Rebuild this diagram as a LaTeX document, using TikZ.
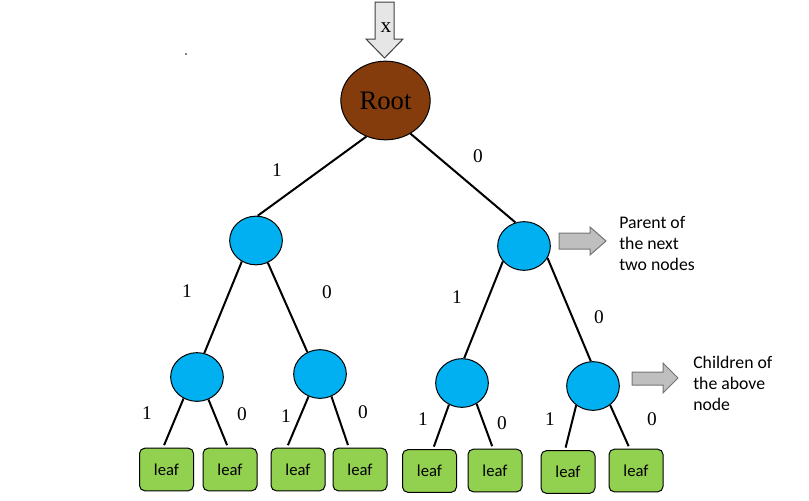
\documentclass[tikz,border=0pt]{standalone}
\usepackage{fontspec}
\setmainfont{Liberation Serif}
\newfontfamily\calibri{Carlito}
\usepackage{tikz}
\usetikzlibrary{shapes.geometric}

\definecolor{rootbrown}{HTML}{843C0C}
\definecolor{bitblue}{HTML}{00B0F0}
\definecolor{leafgreen}{HTML}{92D050}
\definecolor{arrowgray}{HTML}{BFBFBF}
\definecolor{inputgray}{HTML}{E7E6E6}

\begin{document}
\begin{tikzpicture}[x=0.75pt, y=-0.75pt,
        bit/.style={draw, ellipse, fill=bitblue, line width=0.75pt, minimum width=39.5pt, minimum height=36.5pt, inner sep=0pt},
        leafbox/.style={draw, rectangle, rounded corners=4pt, fill=leafgreen, line width=0.75pt, minimum width=40.5pt, minimum height=32pt, inner sep=0pt, font=\calibri\fontsize{12.5}{15}\selectfont},
        edge/.style={line width=1.5pt},
        lbl/.style={inner sep=0pt, font=\fontsize{14.5}{17}\selectfont},
        note/.style={align=left, anchor=west, inner sep=0pt, font=\calibri\fontsize{13.3}{15.75}\selectfont},
        blockarrow/.style={draw=black!55, fill=arrowgray, line width=0.75pt}]
            \path[use as bounding box] (0,0) rectangle (809,500);
            \fill (186,54) circle (0.6pt);

            % input arrow
            \draw[draw=black!75, fill=inputgray, line width=0.75pt] (375,2) -- (394,2) -- (394,39) -- (403,39) -- (384.5,58) -- (366,39) -- (375,39) -- cycle;
            \node[inner sep=0pt, font=\fontsize{16}{19}\selectfont] (input) at (386,28) {x};

            \node[draw, ellipse, fill=rootbrown, line width=0.75pt, minimum width=67pt, minimum height=59pt, inner sep=0pt, font=\fontsize{20}{24}\selectfont] (root) at (385.5,100.5) {Root};

            \node[bit] (l) at (256,240.5) {};
            \node[bit] (r) at (524,246) {};

            \node[bit] (ll) at (197,377) {};
            \node[bit] (lr) at (320,374) {};
            \node[bit] (rl) at (462,383) {};
            \node[bit] (rr) at (593,386) {};

            \node[leafbox] (leaf1) at (166.5,469.5) {leaf};
            \node[leafbox] (leaf2) at (230,469.5) {leaf};
            \node[leafbox] (leaf3) at (298,469.5) {leaf};
            \node[leafbox] (leaf4) at (360,469.5) {leaf};
            \node[leafbox] (leaf5) at (429.5,471) {leaf};
            \node[leafbox] (leaf6) at (495,470.5) {leaf};
            \node[leafbox] (leaf7) at (568,472) {leaf};
            \node[leafbox] (leaf8) at (636,470.5) {leaf};

            \draw[edge] (root.-118) -- (l.86);
            \draw[edge] (root.-53) -- (r.110);
            \draw[edge] (l.-124) -- (ll.73);
            \draw[edge] (l.-62) -- (lr.120);
            \draw[edge] (r.-144) -- (rl.85);
            \draw[edge] (r.-27) -- (rr.95);

            \draw[edge, shorten >=2pt] (ll.-122) -- (leaf1.99);
            \draw[edge, shorten >=2pt] (ll.-63) -- (leaf2.95);
            \draw[edge, shorten >=2pt] (lr.-117) -- (leaf3.117);
            \draw[edge, shorten >=2pt] (lr.-63) -- (leaf4.117);
            \draw[edge, shorten >=2pt] (rl.-121) -- (leaf5.81);
            \draw[edge, shorten >=2pt] (rl.-55) -- (leaf6.95);
            \draw[edge, shorten >=2pt] (rr.-131) -- (leaf7.98);
            \draw[edge, shorten >=2pt] (rr.-48) -- (leaf8.106);

            \node[lbl] (b1) at (277,170) {1};
            \node[lbl] (b0) at (478,156) {0};
            \node[lbl] (bl1) at (187,291) {1};
            \node[lbl] (bl0) at (327,292) {0};
            \node[lbl] (br1) at (457,297) {1};
            \node[lbl] (br0) at (599,317) {0};
            \node[lbl] (bll1) at (147,413) {1};
            \node[lbl] (bll0) at (242,414) {0};
            \node[lbl] (blr1) at (286,416) {1};
            \node[lbl] (blr0) at (363,412) {0};
            \node[lbl] (brl1) at (423,419) {1};
            \node[lbl] (brl0) at (502,423) {0};
            \node[lbl] (brr1) at (550,419) {1};
            \node[lbl] (brr0) at (652,419) {0};

            % side notes
            \draw[blockarrow] (559,233) -- (590,233) -- (590,227) -- (606,241) -- (590,255) -- (590,249) -- (559,249) -- cycle;
            \node[note] (parent) at (619,243) {Parent of\\the next\\two nodes};
            \draw[blockarrow] (632,372) -- (663,372) -- (663,363) -- (678,378) -- (663,393) -- (663,385) -- (632,385) -- cycle;
            \node[note] (children) at (693,383) {Children of\\the above\\node};
        \end{tikzpicture}
\end{document}
